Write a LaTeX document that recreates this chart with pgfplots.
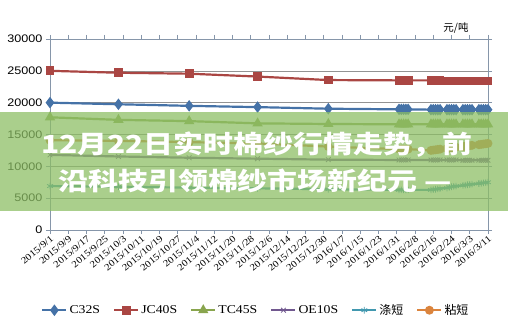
\documentclass[border=0pt]{standalone}
\usepackage{fontspec}
\usepackage{pgfplots}
\pgfplotsset{compat=1.18}
\setmainfont{Liberation Serif}[FakeStretch=1.15]
\newfontfamily\ysans{Liberation Sans}[FakeStretch=1.15]
\newfontfamily\cjk{Noto Sans CJK SC}
\newfontfamily\bannerfont{Noto Sans CJK SC}[FakeStretch=1.2]
\definecolor{cA}{RGB}{69,114,167}
\definecolor{cB}{RGB}{170,70,67}
\definecolor{cC}{RGB}{137,165,78}
\definecolor{cD}{RGB}{113,88,143}
\definecolor{cE}{RGB}{65,152,175}
\definecolor{cF}{RGB}{219,132,61}
\definecolor{axc}{RGB}{134,150,170}
\definecolor{banner}{RGB}{140,190,100}
\begin{document}
\begin{tikzpicture}
\useasboundingbox (0,0) rectangle (508bp,325bp);
\begin{axis}[
  at={(50bp,95bp)}, anchor=south west,
  scale only axis, width=438bp, height=191bp,
  xmin=0, xmax=192, ymin=0, ymax=30000,
  xtick={0,8,...,192},
  xticklabels={2015/9/1,2015/9/9,2015/9/17,2015/9/25,2015/10/3,2015/10/11,2015/10/19,2015/10/27,2015/11/4,2015/11/12,2015/11/20,2015/11/28,2015/12/6,2015/12/14,2015/12/22,2015/12/30,2016/1/7,2016/1/15,2016/1/23,2016/1/31,2016/2/8,2016/2/16,2016/2/24,2016/3/3,2016/3/11},
  xticklabel style={rotate=40, anchor=north east, inner sep=0.5pt, font=\fontsize{9.5}{10}\selectfont},
  ytick={0,5000,...,30000},
  scaled y ticks=false,
  yticklabel style={font=\ysans\fontsize{11}{12}\selectfont, /pgf/number format/1000 sep={}, /pgf/number format/assume math mode=true},
  tick align=outside, major tick length=4bp,
  tick style={axc, line width=0.6pt},
  axis line style={axc, line width=0.8pt},
  ymajorgrids, grid style={gray!85, line width=0.6pt},
  every axis plot/.append style={line width=2.2bp, mark size=3.3bp},
  legend style={at={(0.47,-0.42)}, anchor=center, legend columns=6, draw=none,
    font=\fontsize{12}{13}\selectfont, /tikz/every even column/.append style={column sep=11bp}},
  legend image code/.code={\draw[#1, mark repeat=2, mark phase=2] plot coordinates {(0bp,0bp)(12bp,0bp)(24bp,0bp)};},
]
\addplot[cA, mark=diamond*, mark size=4bp] coordinates {(0,20000)(30,19750)(61,19500)(91,19300)(122,19050)(153,18950)(154,18950)(155,18950)(156,18950)(157,18950)(167,18900)(168,18900)(169,18900)(170,18900)(171,18900)(174,18900)(175,18900)(176,18900)(177,18900)(178,18900)(181,18900)(182,18900)(183,18900)(184,18900)(185,18900)(188,18900)(189,18900)(190,18900)(191,18900)(192,18900)};
\addlegendentry{C32S}
\addplot[cB, mark=square*] coordinates {(0,25000)(30,24700)(61,24550)(91,24100)(122,23550)(153,23500)(154,23500)(155,23500)(156,23500)(157,23500)(167,23500)(168,23500)(169,23500)(170,23500)(171,23500)(174,23400)(175,23400)(176,23400)(177,23400)(178,23400)(181,23400)(182,23400)(183,23400)(184,23400)(185,23400)(188,23400)(189,23400)(190,23400)(191,23400)(192,23400)};
\addlegendentry{JC40S}
\addplot[cC, mark=triangle*, mark size=3.8bp] coordinates {(0,17700)(30,17300)(61,17100)(91,16750)(122,16650)(153,16600)(154,16600)(155,16600)(156,16600)(157,16600)(167,16600)(168,16600)(169,16600)(170,16600)(171,16600)(174,16600)(175,16600)(176,16600)(177,16600)(178,16600)(181,16600)(182,16600)(183,16600)(184,16600)(185,16600)(188,16600)(189,16600)(190,16600)(191,16600)(192,16600)};
\addlegendentry{TC45S}
\addplot[cD, mark=x, mark options={line width=0.8pt}] coordinates {(0,11800)(30,11550)(61,11350)(91,11200)(122,11050)(153,11000)(154,11000)(155,11000)(156,11000)(157,11000)(167,11000)(168,11000)(169,11000)(170,11000)(171,11000)(174,11000)(175,11000)(176,11000)(177,11000)(178,11000)(181,10950)(182,10950)(183,10950)(184,10950)(185,10950)(188,10950)(189,10950)(190,10950)(191,10950)(192,10950)};
\addlegendentry{OE10S}
\addplot[cE, mark=asterisk, mark options={line width=0.8pt}] coordinates {(0,6900)(30,6800)(61,6650)(91,6550)(122,6400)(153,6300)(154,6300)(155,6300)(156,6300)(157,6300)(167,6300)(168,6350)(169,6400)(170,6450)(171,6500)(174,6600)(175,6700)(176,6800)(177,6850)(178,6900)(181,7000)(182,7050)(183,7100)(184,7150)(185,7200)(188,7300)(189,7350)(190,7400)(191,7450)(192,7500)};
\addlegendentry{\cjk 涤短}
\addplot[cF, mark=*] coordinates {(0,14100)(30,14000)(61,13800)(91,13600)(122,13100)(153,12700)(154,12700)(155,12700)(156,12700)(157,12700)(167,12500)(168,12550)(169,12600)(170,12650)(171,12700)(174,12800)(175,12850)(176,12900)(177,12950)(178,13000)(181,13100)(182,13150)(183,13200)(184,13250)(185,13300)(188,13400)(189,13450)(190,13500)(191,13550)(192,13600)};
\addlegendentry{\cjk 粘短}
\end{axis}
\node[font=\cjk\fontsize{10.5}{11}\selectfont] at (456bp,297bp) {元/吨};
\fill[banner, opacity=0.74] (0,114bp) rectangle (508bp,213bp);
\node[text=white, font=\bannerfont\bfseries\fontsize{25}{26}\selectfont, inner sep=0pt] at (257bp,180bp) {12月22日实时棉纱行情走势，前};
\node[text=white, font=\bannerfont\bfseries\fontsize{25}{26}\selectfont, inner sep=0pt] at (255bp,144bp) {沿科技引领棉纱市场新纪元 —};
\end{tikzpicture}
\end{document}
